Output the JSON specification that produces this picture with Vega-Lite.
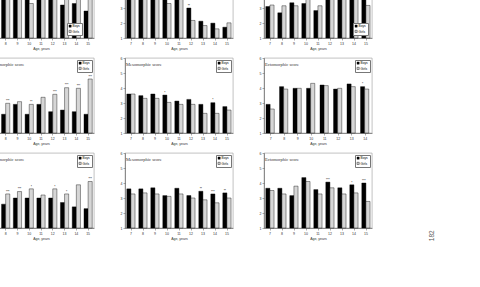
{
  "$schema": "https://vega.github.io/schema/vega-lite/v6.json",
  "background": "white",
  "padding": {"left": -18, "top": -40, "right": 0, "bottom": 0},
  "title": {"text": "182", "orient": "right", "anchor": "end", "angle": 270, "offset": 50, "dx": 10, "dy": 0, "fontSize": 6.5, "font": "Liberation Sans", "fontWeight": "normal", "color": "#555"},
  "datasets": {
    "t1": [
      {"age": 7, "sex": "Boys", "v": 4.2, "sig": ""}, {"age": 7, "sex": "Girls", "v": 4.4, "sig": ""},
      {"age": 8, "sex": "Boys", "v": 4.0, "sig": ""}, {"age": 8, "sex": "Girls", "v": 4.3, "sig": ""},
      {"age": 9, "sex": "Boys", "v": 4.1, "sig": ""}, {"age": 9, "sex": "Girls", "v": 4.2, "sig": ""},
      {"age": 10, "sex": "Boys", "v": 3.8, "sig": ""}, {"age": 10, "sex": "Girls", "v": 3.3, "sig": ""},
      {"age": 11, "sex": "Boys", "v": 4.0, "sig": ""}, {"age": 11, "sex": "Girls", "v": 4.4, "sig": ""},
      {"age": 12, "sex": "Boys", "v": 3.9, "sig": ""}, {"age": 12, "sex": "Girls", "v": 4.5, "sig": ""},
      {"age": 13, "sex": "Boys", "v": 3.2, "sig": ""}, {"age": 13, "sex": "Girls", "v": 3.7, "sig": ""},
      {"age": 14, "sex": "Boys", "v": 3.3, "sig": ""}, {"age": 14, "sex": "Girls", "v": 3.8, "sig": ""},
      {"age": 15, "sex": "Boys", "v": 2.8, "sig": ""}, {"age": 15, "sex": "Girls", "v": 4.0, "sig": ""}
    ],
    "t2": [
      {"age": 7, "sex": "Boys", "v": 4.5, "sig": ""}, {"age": 7, "sex": "Girls", "v": 4.3, "sig": ""},
      {"age": 8, "sex": "Boys", "v": 4.6, "sig": ""}, {"age": 8, "sex": "Girls", "v": 4.2, "sig": ""},
      {"age": 9, "sex": "Boys", "v": 4.4, "sig": ""}, {"age": 9, "sex": "Girls", "v": 4.1, "sig": ""},
      {"age": 10, "sex": "Boys", "v": 3.8, "sig": ""}, {"age": 10, "sex": "Girls", "v": 3.3, "sig": ""},
      {"age": 11, "sex": "Boys", "v": 4.0, "sig": ""}, {"age": 11, "sex": "Girls", "v": 3.8, "sig": ""},
      {"age": 12, "sex": "Boys", "v": 3.0, "sig": "**"}, {"age": 12, "sex": "Girls", "v": 2.17, "sig": ""},
      {"age": 13, "sex": "Boys", "v": 2.12, "sig": ""}, {"age": 13, "sex": "Girls", "v": 1.83, "sig": ""},
      {"age": 14, "sex": "Boys", "v": 1.99, "sig": ""}, {"age": 14, "sex": "Girls", "v": 1.61, "sig": ""},
      {"age": 15, "sex": "Boys", "v": 1.72, "sig": ""}, {"age": 15, "sex": "Girls", "v": 2.01, "sig": ""}
    ],
    "t3": [
      {"age": 7, "sex": "Boys", "v": 3.1, "sig": ""}, {"age": 7, "sex": "Girls", "v": 3.2, "sig": ""},
      {"age": 8, "sex": "Boys", "v": 2.68, "sig": ""}, {"age": 8, "sex": "Girls", "v": 3.15, "sig": ""},
      {"age": 9, "sex": "Boys", "v": 3.35, "sig": ""}, {"age": 9, "sex": "Girls", "v": 3.15, "sig": ""},
      {"age": 10, "sex": "Boys", "v": 3.3, "sig": ""}, {"age": 10, "sex": "Girls", "v": 3.6, "sig": ""},
      {"age": 11, "sex": "Boys", "v": 2.83, "sig": ""}, {"age": 11, "sex": "Girls", "v": 3.15, "sig": ""},
      {"age": 12, "sex": "Boys", "v": 3.8, "sig": ""}, {"age": 12, "sex": "Girls", "v": 3.7, "sig": ""},
      {"age": 13, "sex": "Boys", "v": 3.9, "sig": ""}, {"age": 13, "sex": "Girls", "v": 3.7, "sig": ""},
      {"age": 14, "sex": "Boys", "v": 3.7, "sig": ""}, {"age": 14, "sex": "Girls", "v": 3.6, "sig": ""},
      {"age": 15, "sex": "Boys", "v": 3.8, "sig": ""}, {"age": 15, "sex": "Girls", "v": 3.17, "sig": ""}
    ],
    "m1": [
      {"age": 7, "sex": "Boys", "v": 2.3, "sig": ""}, {"age": 7, "sex": "Girls", "v": 2.8, "sig": ""},
      {"age": 8, "sex": "Boys", "v": 2.25, "sig": ""}, {"age": 8, "sex": "Girls", "v": 2.98, "sig": "***"},
      {"age": 9, "sex": "Boys", "v": 2.91, "sig": ""}, {"age": 9, "sex": "Girls", "v": 3.09, "sig": ""},
      {"age": 10, "sex": "Boys", "v": 2.25, "sig": ""}, {"age": 10, "sex": "Girls", "v": 2.91, "sig": "**"},
      {"age": 11, "sex": "Boys", "v": 2.91, "sig": ""}, {"age": 11, "sex": "Girls", "v": 3.38, "sig": ""},
      {"age": 12, "sex": "Boys", "v": 2.42, "sig": ""}, {"age": 12, "sex": "Girls", "v": 3.58, "sig": "***"},
      {"age": 13, "sex": "Boys", "v": 2.53, "sig": ""}, {"age": 13, "sex": "Girls", "v": 4.02, "sig": "***"},
      {"age": 14, "sex": "Boys", "v": 2.42, "sig": ""}, {"age": 14, "sex": "Girls", "v": 3.98, "sig": "***"},
      {"age": 15, "sex": "Boys", "v": 2.25, "sig": ""}, {"age": 15, "sex": "Girls", "v": 4.6, "sig": "***"}
    ],
    "m2": [
      {"age": 7, "sex": "Boys", "v": 3.6, "sig": ""}, {"age": 7, "sex": "Girls", "v": 3.6, "sig": ""},
      {"age": 8, "sex": "Boys", "v": 3.49, "sig": ""}, {"age": 8, "sex": "Girls", "v": 3.31, "sig": ""},
      {"age": 9, "sex": "Boys", "v": 3.6, "sig": ""}, {"age": 9, "sex": "Girls", "v": 3.31, "sig": ""},
      {"age": 10, "sex": "Boys", "v": 3.53, "sig": "*"}, {"age": 10, "sex": "Girls", "v": 3.04, "sig": ""},
      {"age": 11, "sex": "Boys", "v": 3.13, "sig": ""}, {"age": 11, "sex": "Girls", "v": 2.91, "sig": ""},
      {"age": 12, "sex": "Boys", "v": 3.24, "sig": ""}, {"age": 12, "sex": "Girls", "v": 2.91, "sig": ""},
      {"age": 13, "sex": "Boys", "v": 2.91, "sig": ""}, {"age": 13, "sex": "Girls", "v": 2.31, "sig": ""},
      {"age": 14, "sex": "Boys", "v": 3.02, "sig": "*"}, {"age": 14, "sex": "Girls", "v": 2.31, "sig": ""},
      {"age": 15, "sex": "Boys", "v": 2.76, "sig": ""}, {"age": 15, "sex": "Girls", "v": 2.53, "sig": ""}
    ],
    "m3": [
      {"age": 7, "sex": "Boys", "v": 2.91, "sig": ""}, {"age": 7, "sex": "Girls", "v": 2.6, "sig": ""},
      {"age": 8, "sex": "Boys", "v": 4.09, "sig": ""}, {"age": 8, "sex": "Girls", "v": 3.93, "sig": ""},
      {"age": 9, "sex": "Boys", "v": 3.98, "sig": ""}, {"age": 9, "sex": "Girls", "v": 3.98, "sig": ""},
      {"age": 10, "sex": "Boys", "v": 3.98, "sig": ""}, {"age": 10, "sex": "Girls", "v": 4.31, "sig": ""},
      {"age": 11, "sex": "Boys", "v": 4.2, "sig": ""}, {"age": 11, "sex": "Girls", "v": 4.16, "sig": ""},
      {"age": 12, "sex": "Boys", "v": 3.93, "sig": ""}, {"age": 12, "sex": "Girls", "v": 3.98, "sig": ""},
      {"age": 13, "sex": "Boys", "v": 4.27, "sig": ""}, {"age": 13, "sex": "Girls", "v": 4.09, "sig": ""},
      {"age": 14, "sex": "Boys", "v": 4.09, "sig": "*"}, {"age": 14, "sex": "Girls", "v": 3.93, "sig": ""}
    ],
    "b1": [
      {"age": 7, "sex": "Boys", "v": 2.7, "sig": ""}, {"age": 7, "sex": "Girls", "v": 3.2, "sig": ""},
      {"age": 8, "sex": "Boys", "v": 2.59, "sig": ""}, {"age": 8, "sex": "Girls", "v": 3.27, "sig": "***"},
      {"age": 9, "sex": "Boys", "v": 3.0, "sig": ""}, {"age": 9, "sex": "Girls", "v": 3.43, "sig": "***"},
      {"age": 10, "sex": "Boys", "v": 3.0, "sig": ""}, {"age": 10, "sex": "Girls", "v": 3.61, "sig": "*"},
      {"age": 11, "sex": "Boys", "v": 3.0, "sig": ""}, {"age": 11, "sex": "Girls", "v": 3.2, "sig": ""},
      {"age": 12, "sex": "Boys", "v": 3.0, "sig": ""}, {"age": 12, "sex": "Girls", "v": 3.61, "sig": "*"},
      {"age": 13, "sex": "Boys", "v": 2.7, "sig": ""}, {"age": 13, "sex": "Girls", "v": 3.27, "sig": "*"},
      {"age": 14, "sex": "Boys", "v": 2.41, "sig": ""}, {"age": 14, "sex": "Girls", "v": 3.88, "sig": ""},
      {"age": 15, "sex": "Boys", "v": 2.29, "sig": ""}, {"age": 15, "sex": "Girls", "v": 4.1, "sig": "***"}
    ],
    "b2": [
      {"age": 7, "sex": "Boys", "v": 3.61, "sig": ""}, {"age": 7, "sex": "Girls", "v": 3.27, "sig": ""},
      {"age": 8, "sex": "Boys", "v": 3.61, "sig": ""}, {"age": 8, "sex": "Girls", "v": 3.34, "sig": ""},
      {"age": 9, "sex": "Boys", "v": 3.68, "sig": ""}, {"age": 9, "sex": "Girls", "v": 3.27, "sig": ""},
      {"age": 10, "sex": "Boys", "v": 3.16, "sig": ""}, {"age": 10, "sex": "Girls", "v": 3.11, "sig": ""},
      {"age": 11, "sex": "Boys", "v": 3.65, "sig": ""}, {"age": 11, "sex": "Girls", "v": 3.27, "sig": ""},
      {"age": 12, "sex": "Boys", "v": 3.16, "sig": ""}, {"age": 12, "sex": "Girls", "v": 3.0, "sig": ""},
      {"age": 13, "sex": "Boys", "v": 3.45, "sig": "**"}, {"age": 13, "sex": "Girls", "v": 2.88, "sig": ""},
      {"age": 14, "sex": "Boys", "v": 3.27, "sig": "***"}, {"age": 14, "sex": "Girls", "v": 2.68, "sig": ""},
      {"age": 15, "sex": "Boys", "v": 3.34, "sig": "**"}, {"age": 15, "sex": "Girls", "v": 3.0, "sig": ""}
    ],
    "b3": [
      {"age": 7, "sex": "Boys", "v": 3.65, "sig": ""}, {"age": 7, "sex": "Girls", "v": 3.5, "sig": ""},
      {"age": 8, "sex": "Boys", "v": 3.65, "sig": ""}, {"age": 8, "sex": "Girls", "v": 3.27, "sig": ""},
      {"age": 9, "sex": "Boys", "v": 3.16, "sig": ""}, {"age": 9, "sex": "Girls", "v": 3.79, "sig": ""},
      {"age": 10, "sex": "Boys", "v": 4.36, "sig": ""}, {"age": 10, "sex": "Girls", "v": 4.1, "sig": ""},
      {"age": 11, "sex": "Boys", "v": 3.56, "sig": ""}, {"age": 11, "sex": "Girls", "v": 3.27, "sig": ""},
      {"age": 12, "sex": "Boys", "v": 4.06, "sig": "***"}, {"age": 12, "sex": "Girls", "v": 3.68, "sig": ""},
      {"age": 13, "sex": "Boys", "v": 3.68, "sig": ""}, {"age": 13, "sex": "Girls", "v": 3.27, "sig": ""},
      {"age": 14, "sex": "Boys", "v": 3.88, "sig": "*"}, {"age": 14, "sex": "Girls", "v": 3.34, "sig": ""},
      {"age": 15, "sex": "Boys", "v": 4.0, "sig": "***"}, {"age": 15, "sex": "Girls", "v": 2.77, "sig": ""}
    ]
  },
  "columns": 3,
  "spacing": {"row": 4, "column": 24},
  "resolve": {"scale": {"fill": "independent"}, "legend": {"fill": "independent"}},
  "concat": [
    {
      "data": {"name": "t1"}, "title": "Endomorphic score", "width": 106, "height": 75,
      "encoding": {
        "x": {"field": "age", "type": "ordinal", "title": "Age, years", "scale": {"paddingInner": 0.3, "paddingOuter": 0.15}},
        "xOffset": {"field": "sex", "type": "nominal"},
        "y": {"field": "v", "type": "quantitative", "title": null, "scale": {"domain": [1, 6], "nice": false}, "axis": {"values": [1, 2, 3, 4, 5, 6]}}
      },
      "layer": [
        {"mark": {"type": "bar", "stroke": "black", "strokeWidth": 0.4}, "encoding": {"y2": {"datum": 1}, "fill": {"field": "sex", "type": "nominal", "scale": {"domain": ["Boys", "Girls"], "range": ["#000000", "#d6d6d6"]}, "legend": {"title": null, "orient": "none", "legendX": 79, "legendY": 60}}}},
        {"mark": {"type": "text", "dy": -0.5, "baseline": "bottom", "fontSize": 3, "font": "Liberation Sans"}, "encoding": {"text": {"field": "sig"}}}
      ]
    },
    {
      "data": {"name": "t2"}, "title": "Mesomorphic score", "width": 108, "height": 75,
      "encoding": {
        "x": {"field": "age", "type": "ordinal", "title": "Age, years", "scale": {"paddingInner": 0.3, "paddingOuter": 0.15}},
        "xOffset": {"field": "sex", "type": "nominal"},
        "y": {"field": "v", "type": "quantitative", "title": null, "scale": {"domain": [1, 6], "nice": false}, "axis": {"values": [1, 2, 3, 4, 5, 6]}}
      },
      "layer": [
        {"mark": {"type": "bar", "stroke": "black", "strokeWidth": 0.4}, "encoding": {"y2": {"datum": 1}, "fill": {"field": "sex", "type": "nominal", "scale": {"domain": ["Boys", "Girls"], "range": ["#000000", "#d6d6d6"]}, "legend": {"title": null}}}},
        {"mark": {"type": "text", "dy": -0.5, "baseline": "bottom", "fontSize": 3, "font": "Liberation Sans"}, "encoding": {"text": {"field": "sig"}}}
      ]
    },
    {
      "data": {"name": "t3"}, "title": "Ectomorphic score", "width": 108, "height": 75,
      "encoding": {
        "x": {"field": "age", "type": "ordinal", "title": "Age, years", "scale": {"paddingInner": 0.3, "paddingOuter": 0.15}},
        "xOffset": {"field": "sex", "type": "nominal"},
        "y": {"field": "v", "type": "quantitative", "title": null, "scale": {"domain": [1, 6], "nice": false}, "axis": {"values": [1, 2, 3, 4, 5, 6]}}
      },
      "layer": [
        {"mark": {"type": "bar", "stroke": "black", "strokeWidth": 0.4}, "encoding": {"y2": {"datum": 1}, "fill": {"field": "sex", "type": "nominal", "scale": {"domain": ["Boys", "Girls"], "range": ["#000000", "#d6d6d6"]}, "legend": {"title": null, "orient": "none", "legendX": 89, "legendY": 60}}}},
        {"mark": {"type": "text", "dy": -0.5, "baseline": "bottom", "fontSize": 3, "font": "Liberation Sans"}, "encoding": {"text": {"field": "sig"}}}
      ]
    },
    {
      "data": {"name": "m1"}, "title": "Endomorphic score", "width": 106, "height": 75,
      "encoding": {
        "x": {"field": "age", "type": "ordinal", "title": "Age, years", "scale": {"paddingInner": 0.3, "paddingOuter": 0.15}},
        "xOffset": {"field": "sex", "type": "nominal"},
        "y": {"field": "v", "type": "quantitative", "title": null, "scale": {"domain": [1, 6], "nice": false}, "axis": {"values": [1, 2, 3, 4, 5, 6]}}
      },
      "layer": [
        {"mark": {"type": "bar", "stroke": "black", "strokeWidth": 0.4}, "encoding": {"y2": {"datum": 1}, "fill": {"field": "sex", "type": "nominal", "scale": {"domain": ["Boys", "Girls"], "range": ["#000000", "#d6d6d6"]}, "legend": {"title": null}}}},
        {"mark": {"type": "text", "dy": -0.5, "baseline": "bottom", "fontSize": 3, "font": "Liberation Sans"}, "encoding": {"text": {"field": "sig"}}}
      ]
    },
    {
      "data": {"name": "m2"}, "title": "Mesomorphic score", "width": 108, "height": 75,
      "encoding": {
        "x": {"field": "age", "type": "ordinal", "title": "Age, years", "scale": {"paddingInner": 0.3, "paddingOuter": 0.15}},
        "xOffset": {"field": "sex", "type": "nominal"},
        "y": {"field": "v", "type": "quantitative", "title": null, "scale": {"domain": [1, 6], "nice": false}, "axis": {"values": [1, 2, 3, 4, 5, 6]}}
      },
      "layer": [
        {"mark": {"type": "bar", "stroke": "black", "strokeWidth": 0.4}, "encoding": {"y2": {"datum": 1}, "fill": {"field": "sex", "type": "nominal", "scale": {"domain": ["Boys", "Girls"], "range": ["#000000", "#d6d6d6"]}, "legend": {"title": null}}}},
        {"mark": {"type": "text", "dy": -0.5, "baseline": "bottom", "fontSize": 3, "font": "Liberation Sans"}, "encoding": {"text": {"field": "sig"}}}
      ]
    },
    {
      "data": {"name": "m3"}, "title": "Ectomorphic score", "width": 108, "height": 75,
      "encoding": {
        "x": {"field": "age", "type": "ordinal", "title": "Age, years", "scale": {"paddingInner": 0.3, "paddingOuter": 0.15}},
        "xOffset": {"field": "sex", "type": "nominal"},
        "y": {"field": "v", "type": "quantitative", "title": null, "scale": {"domain": [1, 6], "nice": false}, "axis": {"values": [1, 2, 3, 4, 5, 6]}}
      },
      "layer": [
        {"mark": {"type": "bar", "stroke": "black", "strokeWidth": 0.4}, "encoding": {"y2": {"datum": 1}, "fill": {"field": "sex", "type": "nominal", "scale": {"domain": ["Boys", "Girls"], "range": ["#000000", "#d6d6d6"]}, "legend": {"title": null}}}},
        {"mark": {"type": "text", "dy": -0.5, "baseline": "bottom", "fontSize": 3, "font": "Liberation Sans"}, "encoding": {"text": {"field": "sig"}}}
      ]
    },
    {
      "data": {"name": "b1"}, "title": "Endomorphic score", "width": 106, "height": 75,
      "encoding": {
        "x": {"field": "age", "type": "ordinal", "title": "Age, years", "scale": {"paddingInner": 0.3, "paddingOuter": 0.15}},
        "xOffset": {"field": "sex", "type": "nominal"},
        "y": {"field": "v", "type": "quantitative", "title": null, "scale": {"domain": [1, 6], "nice": false}, "axis": {"values": [1, 2, 3, 4, 5, 6]}}
      },
      "layer": [
        {"mark": {"type": "bar", "stroke": "black", "strokeWidth": 0.4}, "encoding": {"y2": {"datum": 1}, "fill": {"field": "sex", "type": "nominal", "scale": {"domain": ["Boys", "Girls"], "range": ["#000000", "#d6d6d6"]}, "legend": {"title": null}}}},
        {"mark": {"type": "text", "dy": -0.5, "baseline": "bottom", "fontSize": 3, "font": "Liberation Sans"}, "encoding": {"text": {"field": "sig"}}}
      ]
    },
    {
      "data": {"name": "b2"}, "title": "Mesomorphic score", "width": 108, "height": 75,
      "encoding": {
        "x": {"field": "age", "type": "ordinal", "title": "Age, years", "scale": {"paddingInner": 0.3, "paddingOuter": 0.15}},
        "xOffset": {"field": "sex", "type": "nominal"},
        "y": {"field": "v", "type": "quantitative", "title": null, "scale": {"domain": [1, 6], "nice": false}, "axis": {"values": [1, 2, 3, 4, 5, 6]}}
      },
      "layer": [
        {"mark": {"type": "bar", "stroke": "black", "strokeWidth": 0.4}, "encoding": {"y2": {"datum": 1}, "fill": {"field": "sex", "type": "nominal", "scale": {"domain": ["Boys", "Girls"], "range": ["#000000", "#d6d6d6"]}, "legend": {"title": null}}}},
        {"mark": {"type": "text", "dy": -0.5, "baseline": "bottom", "fontSize": 3, "font": "Liberation Sans"}, "encoding": {"text": {"field": "sig"}}}
      ]
    },
    {
      "data": {"name": "b3"}, "title": "Ectomorphic score", "width": 108, "height": 75,
      "encoding": {
        "x": {"field": "age", "type": "ordinal", "title": "Age, years", "scale": {"paddingInner": 0.3, "paddingOuter": 0.15}},
        "xOffset": {"field": "sex", "type": "nominal"},
        "y": {"field": "v", "type": "quantitative", "title": null, "scale": {"domain": [1, 6], "nice": false}, "axis": {"values": [1, 2, 3, 4, 5, 6]}}
      },
      "layer": [
        {"mark": {"type": "bar", "stroke": "black", "strokeWidth": 0.4}, "encoding": {"y2": {"datum": 1}, "fill": {"field": "sex", "type": "nominal", "scale": {"domain": ["Boys", "Girls"], "range": ["#000000", "#d6d6d6"]}, "legend": {"title": null}}}},
        {"mark": {"type": "text", "dy": -0.5, "baseline": "bottom", "fontSize": 3, "font": "Liberation Sans"}, "encoding": {"text": {"field": "sig"}}}
      ]
    }
  ],
  "config": {
    "view": {"stroke": "#999999", "strokeWidth": 0.6},
    "title": {"anchor": "start", "orient": "top", "offset": -10, "dx": 6, "fontSize": 4.5, "font": "Liberation Serif", "fontWeight": "normal", "color": "#333333"},
    "axis": {"labelFontSize": 3.5, "labelFont": "Liberation Sans", "titleFontSize": 3.5, "titleFont": "Liberation Sans", "titleFontWeight": "normal", "tickSize": 2, "labelPadding": 1, "titlePadding": 2, "domainColor": "#555555", "tickColor": "#555555", "labelColor": "#333333", "titleColor": "#333333", "grid": false, "domainWidth": 0.6, "tickWidth": 0.5},
    "axisX": {"labelAngle": 0},
    "legend": {"orient": "top-right", "offset": 2, "strokeColor": "#777777", "padding": 1.5, "symbolType": "square", "symbolSize": 5, "labelFontSize": 3.2, "labelFont": "Liberation Sans", "rowPadding": 0.3, "symbolStrokeColor": "#000000", "symbolStrokeWidth": 0.4, "labelOffset": 0.8, "fillColor": "#ffffff"}
  }
}
